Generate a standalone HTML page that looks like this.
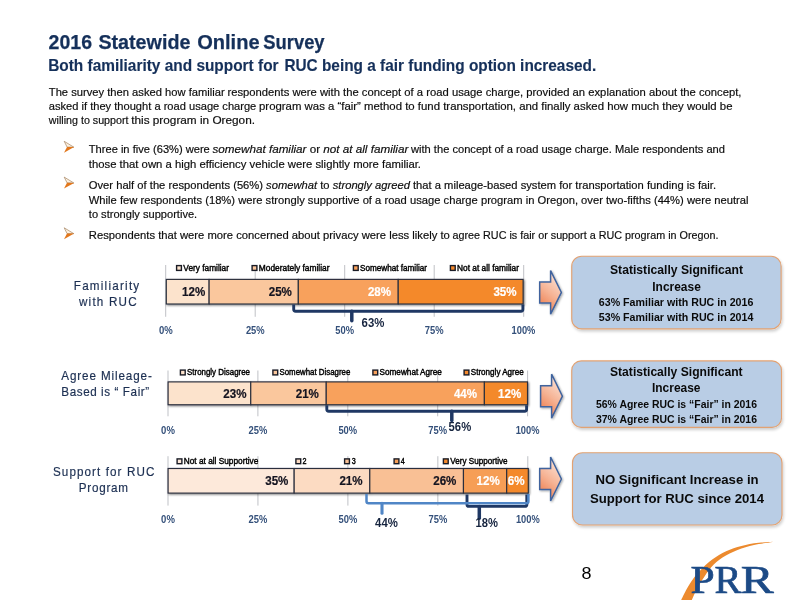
<!DOCTYPE html>
<html><head><meta charset="utf-8"><title>2016 Statewide Online Survey</title>
<style>
html,body{margin:0;padding:0;background:#fff;}
body{width:800px;height:600px;position:relative;overflow:hidden;font-family:"Liberation Sans",sans-serif;}
svg{position:absolute;left:0;top:0;display:block;will-change:transform;}
svg text{font-family:"Liberation Sans",sans-serif;white-space:pre;}
</style></head><body>
<svg width="800" height="600" viewBox="0 0 800 600">
<defs>
<linearGradient id="ag" x1="0.65" y1="0.1" x2="0.3" y2="0.95">
<stop offset="0" stop-color="#fbdccd"/><stop offset="0.5" stop-color="#f6b394"/><stop offset="1" stop-color="#ee7f50"/>
</linearGradient>
<filter id="as" x="-20%" y="-10%" width="150%" height="130%"><feGaussianBlur in="SourceAlpha" stdDeviation="0.9"/><feOffset dx="0.8" dy="1" result="b"/><feComponentTransfer><feFuncA type="linear" slope="0.35"/></feComponentTransfer><feMerge><feMergeNode/><feMergeNode in="SourceGraphic"/></feMerge></filter>
<filter id="sh" x="-10%" y="-10%" width="125%" height="135%"><feGaussianBlur in="SourceAlpha" stdDeviation="1.5"/><feOffset dx="1" dy="1.6" result="b"/><feComponentTransfer><feFuncA type="linear" slope="0.2"/></feComponentTransfer><feMerge><feMergeNode/><feMergeNode in="SourceGraphic"/></feMerge></filter>
<filter id="bs" x="-5%" y="-20%" width="110%" height="160%"><feGaussianBlur in="SourceAlpha" stdDeviation="0.9"/><feOffset dx="0.5" dy="1" result="b"/><feComponentTransfer><feFuncA type="linear" slope="0.5"/></feComponentTransfer><feMerge><feMergeNode/><feMergeNode in="SourceGraphic"/></feMerge></filter>
</defs>
<line x1="165.70" y1="265" x2="165.70" y2="316.8" stroke="#bfc1c6" stroke-width="1"/>
<line x1="255.20" y1="265" x2="255.20" y2="316.8" stroke="#bfc1c6" stroke-width="1"/>
<line x1="344.70" y1="265" x2="344.70" y2="316.8" stroke="#bfc1c6" stroke-width="1"/>
<line x1="434.20" y1="265" x2="434.20" y2="316.8" stroke="#bfc1c6" stroke-width="1"/>
<line x1="523.70" y1="265" x2="523.70" y2="316.8" stroke="#bfc1c6" stroke-width="1"/>
<g filter="url(#bs)">
<rect x="166.30" y="279.4" width="42.82" height="24.600000000000023" fill="#fce3cc" stroke="#2a2f3d" stroke-width="1.15"/>
<rect x="209.12" y="279.4" width="89.20" height="24.600000000000023" fill="#fac79d" stroke="#2a2f3d" stroke-width="1.15"/>
<rect x="298.32" y="279.4" width="99.90" height="24.600000000000023" fill="#f8a15c" stroke="#2a2f3d" stroke-width="1.15"/>
<rect x="398.22" y="279.4" width="124.88" height="24.600000000000023" fill="#f4892c" stroke="#2a2f3d" stroke-width="1.15"/>
</g>
<line x1="168.00" y1="370.5" x2="168.00" y2="416.3" stroke="#bfc1c6" stroke-width="1"/>
<line x1="257.90" y1="370.5" x2="257.90" y2="416.3" stroke="#bfc1c6" stroke-width="1"/>
<line x1="347.80" y1="370.5" x2="347.80" y2="416.3" stroke="#bfc1c6" stroke-width="1"/>
<line x1="437.70" y1="370.5" x2="437.70" y2="416.3" stroke="#bfc1c6" stroke-width="1"/>
<line x1="527.60" y1="370.5" x2="527.60" y2="416.3" stroke="#bfc1c6" stroke-width="1"/>
<g filter="url(#bs)">
<rect x="168.10" y="381.9" width="82.66" height="22.850000000000023" fill="#fce3cc" stroke="#2a2f3d" stroke-width="1.15"/>
<rect x="250.76" y="381.9" width="75.47" height="22.850000000000023" fill="#fac79d" stroke="#2a2f3d" stroke-width="1.15"/>
<rect x="326.24" y="381.9" width="158.14" height="22.850000000000023" fill="#f8a15c" stroke="#2a2f3d" stroke-width="1.15"/>
<rect x="484.37" y="381.9" width="43.13" height="22.850000000000023" fill="#f4892c" stroke="#2a2f3d" stroke-width="1.15"/>
</g>
<line x1="168.00" y1="456.2" x2="168.00" y2="505.6" stroke="#bfc1c6" stroke-width="1"/>
<line x1="257.95" y1="456.2" x2="257.95" y2="505.6" stroke="#bfc1c6" stroke-width="1"/>
<line x1="347.90" y1="456.2" x2="347.90" y2="505.6" stroke="#bfc1c6" stroke-width="1"/>
<line x1="437.85" y1="456.2" x2="437.85" y2="505.6" stroke="#bfc1c6" stroke-width="1"/>
<line x1="527.80" y1="456.2" x2="527.80" y2="505.6" stroke="#bfc1c6" stroke-width="1"/>
<g filter="url(#bs)">
<rect x="168.10" y="468.5" width="126.07" height="24.600000000000023" fill="#fde9da" stroke="#2a2f3d" stroke-width="1.15"/>
<rect x="294.17" y="468.5" width="75.64" height="24.600000000000023" fill="#fcdbc2" stroke="#2a2f3d" stroke-width="1.15"/>
<rect x="369.81" y="468.5" width="93.65" height="24.600000000000023" fill="#f9c095" stroke="#2a2f3d" stroke-width="1.15"/>
<rect x="463.46" y="468.5" width="43.22" height="24.600000000000023" fill="#f69e56" stroke="#2a2f3d" stroke-width="1.15"/>
<rect x="506.69" y="468.5" width="21.61" height="24.600000000000023" fill="#f4892c" stroke="#2a2f3d" stroke-width="1.15"/>
</g>
<rect x="176.6" y="265.6" width="4.8" height="4.8" fill="#fce3cc" stroke="#1a1c26" stroke-width="1.4"/>
<rect x="252.1" y="265.6" width="4.8" height="4.8" fill="#fac79d" stroke="#1a1c26" stroke-width="1.4"/>
<rect x="353.40000000000003" y="265.6" width="4.8" height="4.8" fill="#f8a15c" stroke="#1a1c26" stroke-width="1.4"/>
<rect x="450.40000000000003" y="265.6" width="4.8" height="4.8" fill="#f4892c" stroke="#1a1c26" stroke-width="1.4"/>
<rect x="180.4" y="370.1" width="4.8" height="4.8" fill="#fce3cc" stroke="#1a1c26" stroke-width="1.4"/>
<rect x="272.90000000000003" y="370.1" width="4.8" height="4.8" fill="#fac79d" stroke="#1a1c26" stroke-width="1.4"/>
<rect x="372.90000000000003" y="370.1" width="4.8" height="4.8" fill="#f8a15c" stroke="#1a1c26" stroke-width="1.4"/>
<rect x="464.1" y="370.1" width="4.8" height="4.8" fill="#f4892c" stroke="#1a1c26" stroke-width="1.4"/>
<rect x="177.1" y="458.90000000000003" width="4.8" height="4.8" fill="#fde9da" stroke="#1a1c26" stroke-width="1.4"/>
<rect x="295.90000000000003" y="458.90000000000003" width="4.8" height="4.8" fill="#fcdbc2" stroke="#1a1c26" stroke-width="1.4"/>
<rect x="344.6" y="458.90000000000003" width="4.8" height="4.8" fill="#f9c095" stroke="#1a1c26" stroke-width="1.4"/>
<rect x="394.1" y="458.90000000000003" width="4.8" height="4.8" fill="#f69e56" stroke="#1a1c26" stroke-width="1.4"/>
<rect x="443.40000000000003" y="458.90000000000003" width="4.8" height="4.8" fill="#f4892c" stroke="#1a1c26" stroke-width="1.4"/>
<path d="M293.7 304.6 V309.3 Q293.7 311.3 295.7 311.3 H520.9 Q522.9 311.3 522.9 309.3 V304.6" fill="none" stroke="#1f3864" stroke-width="2.9" stroke-linejoin="round"/>
<path d="M351.8 311.3 V320.8" fill="none" stroke="#1f3864" stroke-width="3.5" stroke-linecap="round"/>
<path d="M326.8 405.3 V409.2 Q326.8 411.2 328.8 411.2 H524.6 Q526.6 411.2 526.6 409.2 V405.3" fill="none" stroke="#1f3864" stroke-width="2.9" stroke-linejoin="round"/>
<path d="M451.8 411.2 V420.6" fill="none" stroke="#1f3864" stroke-width="3.5" stroke-linecap="round"/>
<path d="M467 494.5 V504.4 Q467 506.4 469 506.4 H524.8 Q526.8 506.4 526.8 504.4 V494.5" fill="none" stroke="#1f3864" stroke-width="2.9" stroke-linejoin="round"/>
<path d="M479.3 506.4 V518.3" fill="none" stroke="#1f3864" stroke-width="3.5" stroke-linecap="round"/>
<path d="M366.5 494 V501.3 Q366.5 503.3 368.5 503.3 H526.4 Q528.4 503.3 528.4 501.3 V494" fill="none" stroke="#5086c6" stroke-width="2.5" stroke-linejoin="round"/>
<path d="M382 503.3 V513.3" fill="none" stroke="#5086c6" stroke-width="3.1" stroke-linecap="round"/>
<path d="M539.7 281.9 H550.6 V270.59999999999997 L561.4 292.4 L550.6 314.2 V302.9 H539.7 Z" fill="url(#ag)" stroke="#3f649e" stroke-width="1.5" stroke-linejoin="miter" filter="url(#as)"/>
<path d="M540.6 385.7 H551.6 V374.2 L562.4 396.2 L551.6 418.2 V406.7 H540.6 Z" fill="url(#ag)" stroke="#3f649e" stroke-width="1.5" stroke-linejoin="miter" filter="url(#as)"/>
<path d="M539.7 468.5 H550.6 V457 L561.4 479 L550.6 501 V489.5 H539.7 Z" fill="url(#ag)" stroke="#3f649e" stroke-width="1.5" stroke-linejoin="miter" filter="url(#as)"/>
<rect x="571.75" y="256.25" width="209.35" height="72.65" rx="10" ry="10" fill="#b9cde5" stroke="#e2a273" stroke-width="1.15" filter="url(#sh)"/>
<rect x="571.75" y="360.9" width="209.75" height="66.5" rx="9.5" ry="9.5" fill="#b9cde5" stroke="#e2a273" stroke-width="1.15" filter="url(#sh)"/>
<rect x="572.5" y="452.75" width="209.5" height="72.25" rx="10" ry="10" fill="#b9cde5" stroke="#e2a273" stroke-width="1.15" filter="url(#sh)"/>
<path d="M64.2 141.29999999999998 L73.9 147.2 L67.1 147.1 Z" fill="#fdf1e0" stroke="#a58462" stroke-width="0.7" stroke-linejoin="miter"/>
<path d="M67.0 146.9 L74.1 147.1 L64.0 152.79999999999998 Z" fill="#e2771c"/>
<path d="M64.2 177.1 L73.9 183.0 L67.1 182.9 Z" fill="#fdf1e0" stroke="#a58462" stroke-width="0.7" stroke-linejoin="miter"/>
<path d="M67.0 182.70000000000002 L74.1 182.9 L64.0 188.6 Z" fill="#e2771c"/>
<path d="M64.2 227.79999999999998 L73.9 233.7 L67.1 233.6 Z" fill="#fdf1e0" stroke="#a58462" stroke-width="0.7" stroke-linejoin="miter"/>
<path d="M67.0 233.4 L74.1 233.6 L64.0 239.29999999999998 Z" fill="#e2771c"/>
<path d="M680.3 602 C680.5 601.7 680.0 602.5 681.2 600.0 C682.5 597.5 685.4 591.1 688.0 586.8 C690.6 582.4 693.5 578.1 697.0 574.0 C700.5 569.9 704.8 565.5 709.0 562.0 C713.2 558.5 717.8 555.5 722.5 553.0 C727.2 550.5 732.2 548.6 737.5 547.0 C742.8 545.4 748.2 544.1 754.0 543.2 C759.8 542.4 769.4 542.0 772.5 541.7 L772.5 541.9 C769.4 542.4 759.8 543.6 754.0 545.0 C748.2 546.4 742.8 547.9 737.5 550.0 C732.2 552.1 726.9 554.6 722.5 557.5 C718.1 560.4 714.6 563.5 711.2 567.2 C707.9 571.0 704.8 576.1 702.2 580.0 C699.8 583.9 698.0 587.2 696.2 590.5 C694.5 593.8 692.6 598.1 691.8 600.0 C690.9 601.9 691.1 601.7 691.0 602.0 Z" fill="#ec8a2e"/>

<text y="48.90" font-size="20.0" fill="#15305a" font-weight="700" stroke="#15305a" stroke-width="0.25" x="48.60" textLength="43.40" lengthAdjust="spacingAndGlyphs">2016</text>
<text y="48.90" font-size="20.0" fill="#15305a" font-weight="700" stroke="#15305a" stroke-width="0.25" x="98.40" textLength="92.00" lengthAdjust="spacingAndGlyphs">Statewide</text>
<text y="48.90" font-size="20.0" fill="#15305a" font-weight="700" stroke="#15305a" stroke-width="0.25" x="197.20" textLength="62.40" lengthAdjust="spacingAndGlyphs">Online</text>
<text y="48.90" font-size="20.0" fill="#15305a" font-weight="700" stroke="#15305a" stroke-width="0.25" x="263.30" textLength="61.30" lengthAdjust="spacingAndGlyphs">Survey</text>
<text y="71.20" font-size="16.2" fill="#15305a" font-weight="700" stroke="#15305a" stroke-width="0.15" x="48.20" textLength="230.40" lengthAdjust="spacingAndGlyphs">Both familiarity and support for</text>
<text y="71.20" font-size="16.2" fill="#15305a" font-weight="700" stroke="#15305a" stroke-width="0.15" x="284.40" textLength="311.80" lengthAdjust="spacingAndGlyphs">RUC being a fair funding option increased.</text>
<text y="95.50" font-size="11.0" fill="#0d0d0d" stroke="#0d0d0d" stroke-width="0.18" x="48.80" textLength="175.90" lengthAdjust="spacingAndGlyphs">The survey then asked how familiar</text>
<text y="95.50" font-size="11.0" fill="#0d0d0d" stroke="#0d0d0d" stroke-width="0.18" x="227.40" textLength="514.10" lengthAdjust="spacingAndGlyphs">respondents were with the concept of a road usage charge, provided an explanation about the concept,</text>
<text y="109.70" font-size="11.0" fill="#0d0d0d" stroke="#0d0d0d" stroke-width="0.18" x="48.80" textLength="207.50" lengthAdjust="spacingAndGlyphs">asked if they thought a road usage charge</text>
<text y="109.70" font-size="11.0" fill="#0d0d0d" stroke="#0d0d0d" stroke-width="0.18" x="259.00" textLength="473.50" lengthAdjust="spacingAndGlyphs">program was a “fair” method to fund transportation, and finally asked how much they would be</text>
<text y="123.90" font-size="11.0" fill="#0d0d0d" stroke="#0d0d0d" stroke-width="0.18" x="48.80" textLength="79.70" lengthAdjust="spacingAndGlyphs">willing to support</text>
<text y="123.90" font-size="11.0" fill="#0d0d0d" stroke="#0d0d0d" stroke-width="0.18" x="131.20" textLength="123.80" lengthAdjust="spacingAndGlyphs">this program in Oregon.</text>
<text y="153.30" font-size="11.0" fill="#0d0d0d" stroke="#0d0d0d" stroke-width="0.18" x="88.80" textLength="121.00" lengthAdjust="spacingAndGlyphs">Three in five (63%) were</text>
<text y="153.30" font-size="11.0" fill="#0d0d0d" stroke="#0d0d0d" stroke-width="0.18" x="212.50" textLength="195.80" lengthAdjust="spacingAndGlyphs"><tspan font-style="italic">somewhat familiar</tspan> or <tspan font-style="italic">not at all familiar</tspan></text>
<text y="153.30" font-size="11.0" fill="#0d0d0d" stroke="#0d0d0d" stroke-width="0.18" x="411.00" textLength="314.00" lengthAdjust="spacingAndGlyphs">with the concept of a road usage charge. Male respondents and</text>
<text y="167.80" font-size="11.0" fill="#0d0d0d" stroke="#0d0d0d" stroke-width="0.18" x="88.80" textLength="332.20" lengthAdjust="spacingAndGlyphs">those that own a high efficiency vehicle were slightly more familiar.</text>
<text y="188.50" font-size="11.0" fill="#0d0d0d" stroke="#0d0d0d" stroke-width="0.18" x="88.80" textLength="627.20" lengthAdjust="spacingAndGlyphs">Over half of the respondents (56%) <tspan font-style="italic">somewhat</tspan> to <tspan font-style="italic">strongly agreed</tspan> that a mileage-based system for transportation funding is fair.</text>
<text y="203.50" font-size="11.0" fill="#0d0d0d" stroke="#0d0d0d" stroke-width="0.18" x="88.80" textLength="659.70" lengthAdjust="spacingAndGlyphs">While few respondents (18%) were strongly supportive of a road usage charge program in Oregon, over two-fifths (44%) were neutral</text>
<text y="217.60" font-size="11.0" fill="#0d0d0d" stroke="#0d0d0d" stroke-width="0.18" x="88.80" textLength="108.40" lengthAdjust="spacingAndGlyphs">to strongly supportive.</text>
<text y="239.20" font-size="11.0" fill="#0d0d0d" stroke="#0d0d0d" stroke-width="0.18" x="88.80" textLength="361.00" lengthAdjust="spacingAndGlyphs">Respondents that were more concerned about privacy were less likely to</text>
<text y="239.20" font-size="11.0" fill="#0d0d0d" stroke="#0d0d0d" stroke-width="0.18" x="452.50" textLength="266.00" lengthAdjust="spacingAndGlyphs">agree RUC is fair or support a RUC program in Oregon.</text>
<text font-size="13.4" fill="#1c2f52" stroke="#1c2f52" stroke-width="0.2" transform="translate(73.80,290.30) scale(0.87,1)" textLength="75.17" lengthAdjust="spacing">Familiarity</text>
<text font-size="13.4" fill="#1c2f52" stroke="#1c2f52" stroke-width="0.2" transform="translate(79.00,305.90) scale(0.87,1)" textLength="66.21" lengthAdjust="spacing">with RUC</text>
<text font-size="13.4" fill="#1c2f52" stroke="#1c2f52" stroke-width="0.2" transform="translate(61.30,380.00) scale(0.87,1)" textLength="104.02" lengthAdjust="spacing">Agree Mileage-</text>
<text font-size="13.4" fill="#1c2f52" stroke="#1c2f52" stroke-width="0.2" transform="translate(61.30,395.60) scale(0.87,1)" textLength="101.03" lengthAdjust="spacing">Based is “ Fair”</text>
<text font-size="13.4" fill="#1c2f52" stroke="#1c2f52" stroke-width="0.2" transform="translate(53.00,475.70) scale(0.87,1)" textLength="116.44" lengthAdjust="spacing">Support for RUC</text>
<text font-size="13.4" fill="#1c2f52" stroke="#1c2f52" stroke-width="0.2" transform="translate(78.80,492.00) scale(0.87,1)" textLength="56.55" lengthAdjust="spacing">Program</text>
<text y="270.50" font-size="8.8" fill="#000" stroke="#000" stroke-width="0.42" x="183.30" textLength="45.70" lengthAdjust="spacingAndGlyphs">Very familiar</text>
<text y="270.50" font-size="8.8" fill="#000" stroke="#000" stroke-width="0.42" x="258.80" textLength="70.70" lengthAdjust="spacingAndGlyphs">Moderately familiar</text>
<text y="270.50" font-size="8.8" fill="#000" stroke="#000" stroke-width="0.42" x="360.00" textLength="67.00" lengthAdjust="spacingAndGlyphs">Somewhat familiar</text>
<text y="270.50" font-size="8.8" fill="#000" stroke="#000" stroke-width="0.42" x="457.00" textLength="62.00" lengthAdjust="spacingAndGlyphs">Not at all familiar</text>
<text y="375.00" font-size="8.8" fill="#000" stroke="#000" stroke-width="0.42" x="187.00" textLength="63.00" lengthAdjust="spacingAndGlyphs">Strongly Disagree</text>
<text y="375.00" font-size="8.8" fill="#000" stroke="#000" stroke-width="0.42" x="279.50" textLength="70.80" lengthAdjust="spacingAndGlyphs">Somewhat Disagree</text>
<text y="375.00" font-size="8.8" fill="#000" stroke="#000" stroke-width="0.42" x="379.50" textLength="62.40" lengthAdjust="spacingAndGlyphs">Somewhat Agree</text>
<text y="375.00" font-size="8.8" fill="#000" stroke="#000" stroke-width="0.42" x="470.80" textLength="53.00" lengthAdjust="spacingAndGlyphs">Strongly Agree</text>
<text y="463.80" font-size="8.8" fill="#000" stroke="#000" stroke-width="0.42" x="183.80" textLength="74.50" lengthAdjust="spacingAndGlyphs">Not at all Supportive</text>
<text y="463.80" font-size="8.8" fill="#000" stroke="#000" stroke-width="0.42" x="302.50" textLength="4.00" lengthAdjust="spacingAndGlyphs">2</text>
<text y="463.80" font-size="8.8" fill="#000" stroke="#000" stroke-width="0.42" x="351.70" textLength="4.00" lengthAdjust="spacingAndGlyphs">3</text>
<text y="463.80" font-size="8.8" fill="#000" stroke="#000" stroke-width="0.42" x="400.70" textLength="4.00" lengthAdjust="spacingAndGlyphs">4</text>
<text y="463.80" font-size="8.8" fill="#000" stroke="#000" stroke-width="0.42" x="450.30" textLength="57.20" lengthAdjust="spacingAndGlyphs">Very Supportive</text>
<text y="296.40" font-size="12.2" fill="#141420" font-weight="700" stroke="#141420" stroke-width="0.2" x="182.10" textLength="23.20" lengthAdjust="spacingAndGlyphs">12%</text>
<text y="296.40" font-size="12.2" fill="#141420" font-weight="700" stroke="#141420" stroke-width="0.2" x="268.70" textLength="23.20" lengthAdjust="spacingAndGlyphs">25%</text>
<text y="296.40" font-size="12.2" fill="#fff" font-weight="700" stroke="#fff" stroke-width="0.2" x="367.90" textLength="23.20" lengthAdjust="spacingAndGlyphs">28%</text>
<text y="296.40" font-size="12.2" fill="#fff" font-weight="700" stroke="#fff" stroke-width="0.2" x="493.40" textLength="23.20" lengthAdjust="spacingAndGlyphs">35%</text>
<text y="397.70" font-size="12.2" fill="#141420" font-weight="700" stroke="#141420" stroke-width="0.2" x="223.30" textLength="23.20" lengthAdjust="spacingAndGlyphs">23%</text>
<text y="397.70" font-size="12.2" fill="#141420" font-weight="700" stroke="#141420" stroke-width="0.2" x="295.70" textLength="23.20" lengthAdjust="spacingAndGlyphs">21%</text>
<text y="397.70" font-size="12.2" fill="#fff" font-weight="700" stroke="#fff" stroke-width="0.2" x="453.90" textLength="23.20" lengthAdjust="spacingAndGlyphs">44%</text>
<text y="397.70" font-size="12.2" fill="#fff" font-weight="700" stroke="#fff" stroke-width="0.2" x="498.10" textLength="23.20" lengthAdjust="spacingAndGlyphs">12%</text>
<text y="485.20" font-size="12.2" fill="#141420" font-weight="700" stroke="#141420" stroke-width="0.2" x="265.20" textLength="23.20" lengthAdjust="spacingAndGlyphs">35%</text>
<text y="485.20" font-size="12.2" fill="#141420" font-weight="700" stroke="#141420" stroke-width="0.2" x="339.40" textLength="23.20" lengthAdjust="spacingAndGlyphs">21%</text>
<text y="485.20" font-size="12.2" fill="#141420" font-weight="700" stroke="#141420" stroke-width="0.2" x="433.20" textLength="23.20" lengthAdjust="spacingAndGlyphs">26%</text>
<text y="485.20" font-size="12.2" fill="#fff" font-weight="700" stroke="#fff" stroke-width="0.2" x="476.50" textLength="23.20" lengthAdjust="spacingAndGlyphs">12%</text>
<text y="485.20" font-size="12.2" fill="#fff" font-weight="700" stroke="#fff" stroke-width="0.2" x="507.80" textLength="16.80" lengthAdjust="spacingAndGlyphs">6%</text>
<text y="334.00" font-size="10.8" fill="#34507a" font-weight="700" x="159.00" textLength="13.80" lengthAdjust="spacingAndGlyphs">0%</text>
<text y="334.00" font-size="10.8" fill="#34507a" font-weight="700" x="245.90" textLength="18.80" lengthAdjust="spacingAndGlyphs">25%</text>
<text y="334.00" font-size="10.8" fill="#34507a" font-weight="700" x="335.30" textLength="18.80" lengthAdjust="spacingAndGlyphs">50%</text>
<text y="334.00" font-size="10.8" fill="#34507a" font-weight="700" x="424.70" textLength="18.80" lengthAdjust="spacingAndGlyphs">75%</text>
<text y="334.00" font-size="10.8" fill="#34507a" font-weight="700" x="511.60" textLength="23.80" lengthAdjust="spacingAndGlyphs">100%</text>
<text y="434.00" font-size="10.8" fill="#34507a" font-weight="700" x="161.10" textLength="13.80" lengthAdjust="spacingAndGlyphs">0%</text>
<text y="434.00" font-size="10.8" fill="#34507a" font-weight="700" x="248.50" textLength="18.80" lengthAdjust="spacingAndGlyphs">25%</text>
<text y="434.00" font-size="10.8" fill="#34507a" font-weight="700" x="338.40" textLength="18.80" lengthAdjust="spacingAndGlyphs">50%</text>
<text y="434.00" font-size="10.8" fill="#34507a" font-weight="700" x="428.30" textLength="18.80" lengthAdjust="spacingAndGlyphs">75%</text>
<text y="434.00" font-size="10.8" fill="#34507a" font-weight="700" x="515.70" textLength="23.80" lengthAdjust="spacingAndGlyphs">100%</text>
<text y="522.50" font-size="10.8" fill="#34507a" font-weight="700" x="161.10" textLength="13.80" lengthAdjust="spacingAndGlyphs">0%</text>
<text y="522.50" font-size="10.8" fill="#34507a" font-weight="700" x="248.55" textLength="18.80" lengthAdjust="spacingAndGlyphs">25%</text>
<text y="522.50" font-size="10.8" fill="#34507a" font-weight="700" x="338.50" textLength="18.80" lengthAdjust="spacingAndGlyphs">50%</text>
<text y="522.50" font-size="10.8" fill="#34507a" font-weight="700" x="428.45" textLength="18.80" lengthAdjust="spacingAndGlyphs">75%</text>
<text y="522.50" font-size="10.8" fill="#34507a" font-weight="700" x="515.90" textLength="23.80" lengthAdjust="spacingAndGlyphs">100%</text>
<text y="326.90" font-size="13" fill="#16243f" font-weight="700" x="361.60" textLength="22.80" lengthAdjust="spacingAndGlyphs">63%</text>
<text y="431.00" font-size="13" fill="#16243f" font-weight="700" x="448.60" textLength="22.60" lengthAdjust="spacingAndGlyphs">56%</text>
<text y="526.80" font-size="13" fill="#16243f" font-weight="700" x="375.10" textLength="22.80" lengthAdjust="spacingAndGlyphs">44%</text>
<text y="526.80" font-size="13" fill="#16243f" font-weight="700" x="475.50" textLength="22.40" lengthAdjust="spacingAndGlyphs">18%</text>
<text y="273.80" font-size="12.6" fill="#0a0a0a" font-weight="700" x="610.00" textLength="133.00" lengthAdjust="spacingAndGlyphs">Statistically Significant</text>
<text y="290.70" font-size="12.6" fill="#0a0a0a" font-weight="700" x="652.30" textLength="48.50" lengthAdjust="spacingAndGlyphs">Increase</text>
<text y="306.40" font-size="10.6" fill="#0a0a0a" font-weight="700" x="598.80" textLength="154.60" lengthAdjust="spacingAndGlyphs">63% Familiar with RUC in 2016</text>
<text y="320.60" font-size="10.6" fill="#0a0a0a" font-weight="700" x="598.80" textLength="154.60" lengthAdjust="spacingAndGlyphs">53% Familiar with RUC in 2014</text>
<text y="578.50" font-size="17.4" fill="#000" x="581.40" textLength="10.00" lengthAdjust="spacingAndGlyphs">8</text>
<text y="593.30" font-size="40" fill="#1c4a86" style="font-family:Liberation Serif, serif" stroke="#1c4a86" stroke-width="0.7" x="690.60" textLength="24.20" lengthAdjust="spacingAndGlyphs">P</text>
<text y="593.30" font-size="40" fill="#1c4a86" style="font-family:Liberation Serif, serif" stroke="#1c4a86" stroke-width="0.7" x="714.40" textLength="27.00" lengthAdjust="spacingAndGlyphs">R</text>
<text y="593.30" font-size="40" fill="#1c4a86" style="font-family:Liberation Serif, serif" stroke="#1c4a86" stroke-width="0.7" x="740.80" textLength="33.00" lengthAdjust="spacingAndGlyphs">R</text>
<text y="375.60" font-size="12.6" fill="#0a0a0a" font-weight="700" x="610.00" textLength="132.60" lengthAdjust="spacingAndGlyphs">Statistically Significant</text>
<text y="392.30" font-size="12.6" fill="#0a0a0a" font-weight="700" x="652.00" textLength="48.50" lengthAdjust="spacingAndGlyphs">Increase</text>
<text y="408.00" font-size="10.6" fill="#0a0a0a" font-weight="700" x="596.00" textLength="161.00" lengthAdjust="spacingAndGlyphs">56% Agree RUC is “Fair” in 2016</text>
<text y="422.50" font-size="10.6" fill="#0a0a0a" font-weight="700" x="596.00" textLength="161.00" lengthAdjust="spacingAndGlyphs">37% Agree RUC is “Fair” in 2016</text>
<text y="484.10" font-size="13.2" fill="#0a0a0a" font-weight="700" x="595.40" textLength="163.20" lengthAdjust="spacingAndGlyphs">NO Significant Increase in</text>
<text y="503.00" font-size="13.2" fill="#0a0a0a" font-weight="700" x="590.00" textLength="174.00" lengthAdjust="spacingAndGlyphs">Support for RUC since 2014</text>
</svg>
</body></html>
